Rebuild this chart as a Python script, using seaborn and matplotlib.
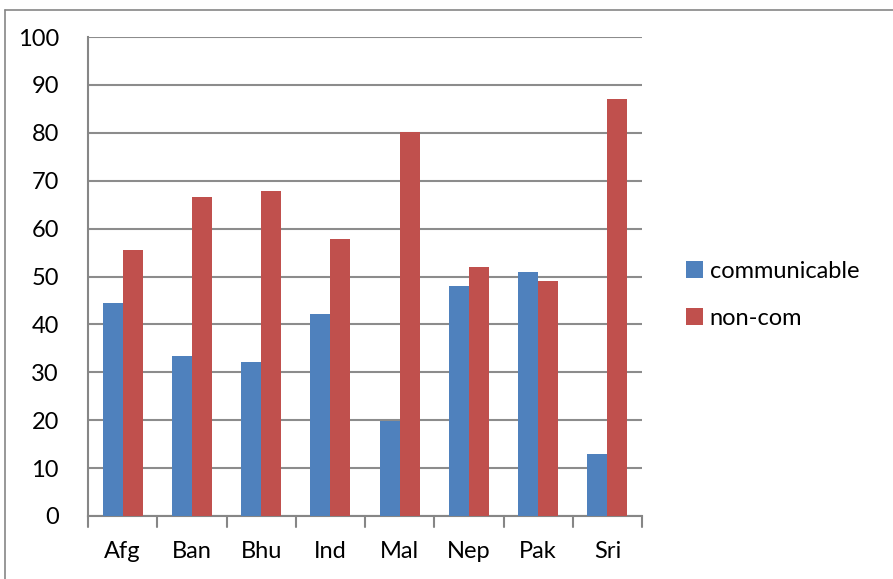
import matplotlib
matplotlib.use("Agg")
import matplotlib.pyplot as plt
import seaborn as sns
import pandas as pd
from matplotlib.lines import Line2D
from matplotlib.patches import Patch

countries = ["Afg", "Ban", "Bhu", "Ind", "Mal", "Nep", "Pak", "Sri"]
communicable = [44.5, 33.4, 32.2, 42.2, 19.8, 48.0, 50.9, 12.9]
non_com = [55.5, 66.6, 67.8, 57.8, 80.2, 52.0, 49.1, 87.1]
series_names = ["communicable", "non-com"]
colors = ["#4F81BD", "#C0504D"]
y_ticks = list(range(0, 101, 10))

df = pd.DataFrame({
    "country": countries * 2,
    "value": communicable + non_com,
    "series": [series_names[0]] * len(countries) + [series_names[1]] * len(countries),
})

sns.set_style("white")
plt.rcParams["font.family"] = ["Lato", "DejaVu Sans"]
plt.rcParams["text.color"] = "#000000"

fs = 17

fig = plt.figure(figsize=(8.93, 5.79), dpi=100)
ax = fig.add_axes([88 / 893, 1 - 516 / 579, (642 - 88) / 893, (516 - 37) / 579])

sns.barplot(data=df, x="country", y="value", hue="series", palette=colors,
            width=0.58, gap=0, ax=ax, legend=False, saturation=1, zorder=3,
            linewidth=0, edgecolor="none")

ax.set_ylim(0, 100)
ax.set_xlim(-0.5, len(countries) - 0.5)
ax.set_yticks(y_ticks)
ax.set_yticklabels([str(t) for t in y_ticks], fontsize=fs, color="black")
ax.set_xlabel("")
ax.set_ylabel("")
ax.tick_params(axis="x", length=0, labelsize=fs, pad=18, labelcolor="black")
ax.tick_params(axis="y", length=6, width=1.5, color="#868686", pad=15, direction="out")

# x-axis category boundary ticks
for b in [i - 0.5 for i in range(len(countries) + 1)]:
    ax.plot([b, b], [0, -2.2], color="#868686", lw=1.5, clip_on=False, zorder=4)

ax.yaxis.grid(True, color="#8C8C8C", lw=1.5, zorder=0)
ax.xaxis.grid(False)
for s in ["top", "right"]:
    ax.spines[s].set_visible(False)
for s in ["left", "bottom"]:
    ax.spines[s].set_color("#868686")
    ax.spines[s].set_linewidth(1.5)

handles = [Patch(facecolor=c, edgecolor="none") for c in colors]
fig.legend(handles, series_names, loc="center left",
           bbox_to_anchor=(665 / 893, 1 - 295 / 579), frameon=False,
           fontsize=fs, handlelength=0.7, handleheight=0.7,
           handletextpad=0.3, labelspacing=1.1)

# outer chart border
fig.add_artist(Line2D([5 / 893, 5 / 893], [0, 1 - 10 / 579], transform=fig.transFigure, color="#868686", lw=1.2))
fig.add_artist(Line2D([5 / 893, 1], [1 - 10 / 579, 1 - 10 / 579], transform=fig.transFigure, color="#868686", lw=1.2))

fig.savefig("out.png", dpi=100)
